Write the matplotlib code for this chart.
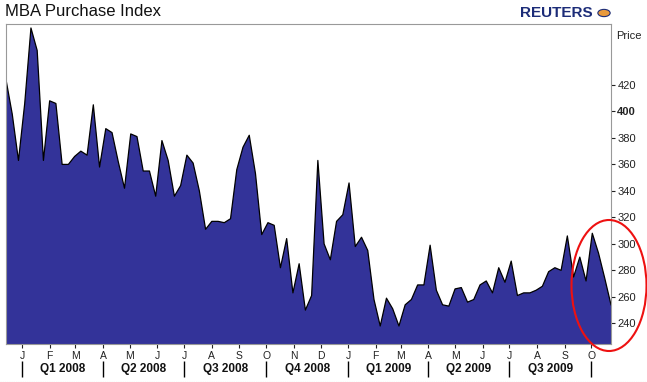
import matplotlib
matplotlib.use("Agg")
import matplotlib.pyplot as plt
import matplotlib.dates as mdates
from matplotlib.patches import Ellipse, Circle
import pandas as pd
import numpy as np

plt.rcParams['font.family'] = ['Liberation Sans', 'DejaVu Sans']

# ---- data ----
start_date = "2007-12-14"
values = [424, 398, 363, 406, 463, 446, 363, 408, 406, 360,
          360, 366, 370, 367, 405, 358, 387, 384, 362, 342,
          383, 381, 355, 355, 336, 378, 363, 336, 344, 367,
          361, 340, 311, 317, 317, 316, 319, 356, 373, 382,
          353, 307, 316, 314, 282, 304, 263, 285, 250, 261,
          363, 300, 288, 317, 322, 346, 298, 305, 295, 258,
          238, 259, 251, 238, 254, 258, 269, 269, 299, 265,
          254, 253, 266, 267, 256, 258, 269, 272, 263, 282,
          271, 287, 261, 263, 263, 265, 268, 279, 282, 280,
          306, 275, 290, 272, 308, 293, 274, 254]
dates = pd.date_range(start_date, periods=len(values), freq="7D")
y_ticks = [240, 260, 280, 300, 320, 340, 360, 380, 400, 420]
month_letters = ["J", "F", "M", "A", "M", "J", "J", "A", "S", "O", "N", "D"]
quarter_labels = ["Q1 2008", "Q2 2008", "Q3 2008", "Q4 2008",
                  "Q1 2009", "Q2 2009", "Q3 2009"]
quarter_starts = pd.date_range("2008-01-01", "2009-10-01", freq="QS")

W, H = 647, 382
fig = plt.figure(figsize=(W / 100, H / 100), dpi=100)
ax_h = 344 - 24
ax = fig.add_axes([6 / W, (H - 344) / H, 605 / W, ax_h / H])

ax.fill_between(dates, values, 0, color="#333399", linewidth=0)
ax.plot(dates, values, color="black", linewidth=0.9)

ax.set_xlim(dates[0], dates[-1])
ax.set_ylim(224.4, 466)

# y axis on right
ax.yaxis.tick_right()
ax.set_yticks(y_ticks)
ax.set_yticklabels([str(v) for v in y_ticks])
ax.tick_params(axis="y", direction="out", length=3, width=0.8, pad=1.5,
               labelsize=8, colors="#222222")
for lbl in ax.get_yticklabels():
    if lbl.get_text() == "400":
        lbl.set_fontweight("bold")

# x axis month ticks
ax.xaxis.set_major_locator(mdates.MonthLocator())
ax.xaxis.set_major_formatter(plt.FuncFormatter(
    lambda x, pos: month_letters[mdates.num2date(x).month - 1]))
ax.tick_params(axis="x", direction="out", length=3, width=0.8, pad=2,
               labelsize=7.5, colors="#222222")

for s in ["top", "left", "right", "bottom"]:
    ax.spines[s].set_linestyle((0, (1, 1)))
    ax.spines[s].set_color("#999999")
    ax.spines[s].set_linewidth(0.8)

# quarter separators and labels (offsets in pixels below axes bottom)
xt = ax.get_xaxis_transform()
qnums = mdates.date2num(quarter_starts)
ax.vlines(qnums, -17 / ax_h, -33 / ax_h, transform=xt, color="black",
          linewidth=1.0, clip_on=False)
for i, lab in enumerate(quarter_labels):
    xm = (qnums[i] + qnums[i + 1]) / 2
    ax.text(xm, -25 / ax_h, lab, transform=xt, ha="center", va="center",
            fontsize=8.5, fontweight="bold", color="#111111")

# title and labels
fig.text(5 / W, 1 - 12 / H, "MBA Purchase Index", fontsize=12,
         ha="left", va="center", color="#111111")
fig.text(593 / W, 1 - 13 / H, "REUTERS", fontsize=11, fontweight="bold",
         ha="right", va="center", color="#1c2c78")
fig.patches.append(Circle((604 / W, 1 - 13 / H), 0.0095,
                          transform=fig.transFigure, facecolor="#e89a3c",
                          edgecolor="#1c2c78", linewidth=0.8))
fig.text(616 / W, 1 - 36 / H, "Price", fontsize=8, ha="left", va="center",
         color="#222222")

# red ellipse annotation
fig.patches.append(Ellipse((609 / W, 1 - 285.5 / H), 75 / W, 131 / H,
                           transform=fig.transFigure, fill=False,
                           edgecolor="#ee1111", linewidth=1.5))

# faint bottom line
fig.add_artist(plt.Line2D([0, 1], [0.5 / H, 0.5 / H], transform=fig.transFigure,
                          color="#a8d8a8", linewidth=0.8, linestyle=(0, (1, 1))))

fig.savefig("out.png", dpi=100)
